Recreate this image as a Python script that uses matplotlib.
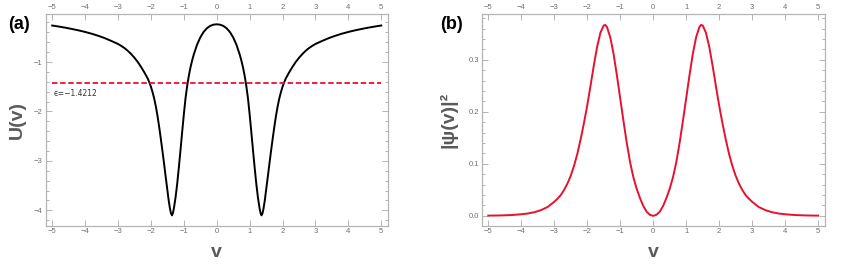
import matplotlib.pyplot as plt
from matplotlib.ticker import MultipleLocator

# potential U(v) for v <= 0 (curve is symmetric)
v_u_half = [-5.0, -4.8, -4.6, -4.4, -4.2, -4.0, -3.8, -3.6, -3.4, -3.2, -3.0,
            -2.9, -2.8, -2.7, -2.6, -2.5, -2.4, -2.3, -2.2, -2.1, -2.05, -2.0,
            -1.95, -1.9, -1.85, -1.8, -1.75, -1.7, -1.65, -1.6, -1.55, -1.5,
            -1.46, -1.42, -1.39, -1.36, -1.33, -1.3, -1.25, -1.2, -1.15, -1.1,
            -1.05, -1.0, -0.95, -0.9, -0.85, -0.8, -0.75, -0.7, -0.6, -0.5,
            -0.4, -0.3, -0.2, -0.1, 0.0]
u_half = [-0.262, -0.283, -0.306, -0.332, -0.36, -0.392, -0.428, -0.47, -0.518, -0.575, -0.635,
          -0.675, -0.72, -0.775, -0.84, -0.915, -1.0, -1.1, -1.21, -1.33, -1.41, -1.5,
          -1.61, -1.74, -1.9, -2.09, -2.31, -2.55, -2.8, -3.06, -3.33, -3.59,
          -3.8, -3.97, -4.06, -4.1, -4.05, -3.95, -3.73, -3.45, -3.12, -2.77,
          -2.41, -2.06, -1.74, -1.49, -1.285, -1.115, -0.975, -0.853, -0.653, -0.503,
          -0.393, -0.318, -0.27, -0.245, -0.237]
eps = -1.4212
eps_span = [-5, 5]

# probability density |psi(v)|^2 for v <= 0
v_p_half = [-5.0, -4.6, -4.3, -4.0, -3.8, -3.6, -3.4, -3.2, -3.0, -2.9, -2.8,
            -2.7, -2.6, -2.5, -2.4, -2.3, -2.2, -2.1, -2.0, -1.9, -1.8, -1.7,
            -1.6, -1.5, -1.45, -1.4, -1.3, -1.2, -1.1, -1.0, -0.9, -0.8, -0.7,
            -0.6, -0.5, -0.4, -0.3, -0.2, -0.1, 0.0]
p_half = [0.0004, 0.0008, 0.0015, 0.003, 0.0045, 0.007, 0.011, 0.017, 0.027, 0.033, 0.04,
          0.05, 0.062, 0.077, 0.096, 0.119, 0.147, 0.178, 0.212, 0.25, 0.289, 0.325,
          0.352, 0.366, 0.367, 0.363, 0.343, 0.311, 0.27, 0.226, 0.182, 0.14, 0.103,
          0.074, 0.052, 0.034, 0.019, 0.008, 0.002, 0.0]

# both curves are even in v: mirror the read half
v_u = v_u_half + [-x for x in v_u_half[-2::-1]]
u_vals = u_half + u_half[-2::-1]
v_p = v_p_half + [-x for x in v_p_half[-2::-1]]
p_vals = p_half + p_half[-2::-1]

x_ticks = [-5, -4, -3, -2, -1, 0, 1, 2, 3, 4, 5]
x_labels = ['−5', '−4', '−3', '−2', '−1', '0', '1', '2', '3', '4', '5']

frame_col = '#b4b4b4'
tick_col = '#6e6e6e'
label_col = '#5a5a5a'
red = '#e8112d'

plt.rcParams['font.family'] = ['Liberation Sans', 'DejaVu Sans']

fig = plt.figure(figsize=(8.45, 2.7), dpi=100)
ax1 = fig.add_axes([0.054, 0.164, 0.405, 0.784])
ax2 = fig.add_axes([0.570, 0.164, 0.406, 0.784])


def style(ax, minor):
    for s in ax.spines.values():
        s.set_color(frame_col)
        s.set_linewidth(0.9)
    ax.set_xticks(x_ticks)
    ax.set_xticklabels(x_labels)
    ax.yaxis.set_minor_locator(MultipleLocator(minor))
    ax.tick_params(which='both', direction='in', top=True, right=True,
                   labeltop=True, labelsize=5.5, colors=frame_col,
                   labelcolor=tick_col, width=0.7, pad=2)
    ax.tick_params(which='major', length=4)
    ax.tick_params(which='minor', length=2)
    ax.set_xlim(-5.2, 5.2)


ax1.plot(v_u, u_vals, color='black', lw=1.4)
ax1.plot(eps_span, [eps, eps], color=red, lw=1.3, ls=(0, (3, 1.5)))
ax1.text(-4.95, eps - 0.12, 'ϵ=−1.4212', fontsize=5.5, color='#333333',
         va='top', ha='left', family=['DejaVu Sans'])
style(ax1, 0.2)
ax1.set_ylim(-4.31, -0.03)
ax1.set_yticks([-1, -2, -3, -4])
ax1.set_yticklabels(['−1', '−2', '−3', '−4'])
ax1.set_xlabel('v', fontsize=14, fontweight='bold', color=label_col, labelpad=6)
ax1.set_ylabel('U(v)', fontsize=14, fontweight='bold', color=label_col, labelpad=6)

ax2.plot(v_p, p_vals, color=red, lw=1.4)
style(ax2, 0.02)
ax2.set_ylim(-0.019, 0.388)
ax2.set_yticks([0.0, 0.1, 0.2, 0.3])
ax2.set_yticklabels(['0.0', '0.1', '0.2', '0.3'])
ax2.set_xlabel('v', fontsize=14, fontweight='bold', color=label_col, labelpad=6)
ax2.set_ylabel('|ψ(v)|²', fontsize=14, fontweight='bold', color=label_col, labelpad=8)

fig.text(0.022, 0.91, '(a)', fontsize=13, fontweight='bold', ha='center', va='center')
fig.text(0.534, 0.91, '(b)', fontsize=13, fontweight='bold', ha='center', va='center')

fig.savefig('out.png', dpi=100)
